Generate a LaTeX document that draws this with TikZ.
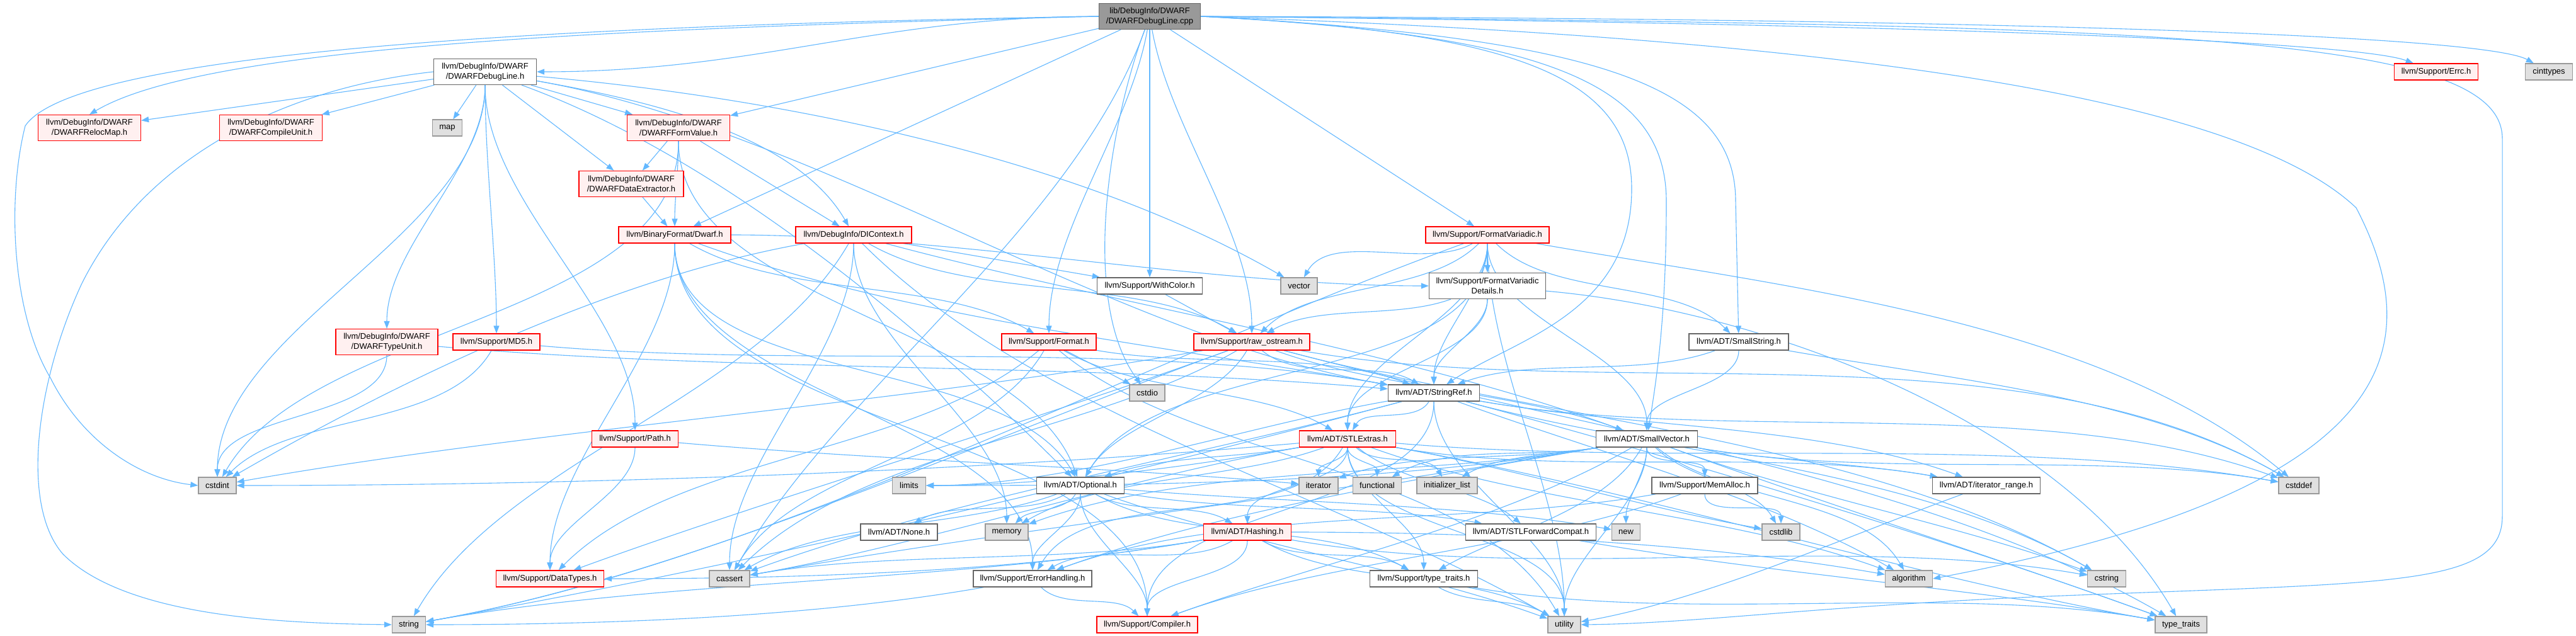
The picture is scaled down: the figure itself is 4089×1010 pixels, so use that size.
\documentclass[tikz,border=0pt]{standalone}
\usepackage{fontspec}
\setmainfont{Liberation Sans}
\usetikzlibrary{arrows.meta}
\pgfdeclarelayer{bgwhite}
\pgfdeclarelayer{edges}
\pgfsetlayers{bgwhite,edges,main}
\definecolor{edgec}{HTML}{63B8FF}
\definecolor{grayfill}{HTML}{E0E0E0}
\definecolor{grayline}{HTML}{999999}
\definecolor{darkline}{HTML}{666666}
\definecolor{redfill}{HTML}{FFF0F0}
\definecolor{rootfill}{HTML}{999999}
\tikzset{
 box/.style={draw, line width=0.26pt, inner sep=0pt, align=center, font=\fontsize{2.6}{3.2}\selectfont, text=black},
 graybox/.style={box, fill=grayfill, draw=grayline},
 whitebox/.style={box, fill=white, draw=darkline},
 redbox/.style={box, fill=redfill, draw=red},
 rootbox/.style={box, fill=rootfill, draw=darkline},
 edge/.style={draw=edgec, line width=0.22pt, -{Triangle[length=2.4pt,width=1.8pt]}},
}
\newcommand\N[7]{\node[#6, minimum width={#4*0.2pt}, minimum height={#5*0.2pt}] (#1) at (#2,-#3) {#7};}
\newcommand\E[3][]{\draw[edge] (#2) to[out=-90,in=90,looseness=0.8,#1] (#3);}
\newcommand\Sl[2]{\draw[edge] (#1) -- (#2);}
\begin{document}
\begin{tikzpicture}[x=0.2pt,y=0.2pt]
\useasboundingbox (0,0) rectangle (4089,-1010);
\begin{pgfonlayer}{bgwhite}
\fill[white] (0,0) rectangle (4089,-1010);
\end{pgfonlayer}
% nodes
\N{R}{1825}{26}{161}{41}{rootbox}{lib/DebugInfo/DWARF\\/DWARFDebugLine.cpp}
\N{DL}{770}{114}{163}{41}{whitebox}{llvm/DebugInfo/DWARF\\/DWARFDebugLine.h}
\N{Errc}{3867}{114}{133}{26}{redbox}{llvm/Support/Errc.h}
\N{cinttypes}{4046}{114}{75}{26}{graybox}{cinttypes}
\N{RM}{142}{203}{163}{41}{redbox}{llvm/DebugInfo/DWARF\\/DWARFRelocMap.h}
\N{CU}{430}{203}{163}{41}{redbox}{llvm/DebugInfo/DWARF\\/DWARFCompileUnit.h}
\N{map}{710}{203}{47}{26}{graybox}{map}
\N{FV}{1077}{203}{163}{41}{redbox}{llvm/DebugInfo/DWARF\\/DWARFFormValue.h}
\N{DE}{1002}{292}{166}{41}{redbox}{llvm/DebugInfo/DWARF\\/DWARFDataExtractor.h}
\N{DW}{1071}{373}{178}{26}{redbox}{llvm/BinaryFormat/Dwarf.h}
\N{DIC}{1355}{373}{184}{26}{redbox}{llvm/DebugInfo/DIContext.h}
\N{FVar}{2361}{373}{196}{26}{redbox}{llvm/Support/FormatVariadic.h}
\N{WC}{1825}{454}{167}{26}{whitebox}{llvm/Support/WithColor.h}
\N{vector}{2062}{454}{58}{26}{graybox}{vector}
\N{FVD}{2361}{454}{185}{41}{whitebox}{llvm/Support/FormatVariadic\\Details.h}
\N{TU}{614}{543}{162}{41}{redbox}{llvm/DebugInfo/DWARF\\/DWARFTypeUnit.h}
\N{MD5}{788}{543}{138}{26}{redbox}{llvm/Support/MD5.h}
\N{Fmt}{1665}{543}{150}{26}{redbox}{llvm/Support/Format.h}
\N{RO}{1987}{543}{184}{26}{redbox}{llvm/Support/raw\_ostream.h}
\N{SS}{2760}{543}{158}{26}{whitebox}{llvm/ADT/SmallString.h}
\N{cstdio}{1821}{624}{56}{26}{graybox}{cstdio}
\N{SR}{2276}{624}{145}{26}{whitebox}{llvm/ADT/StringRef.h}
\N{Path}{1008}{697}{137}{26}{redbox}{llvm/Support/Path.h}
\N{STL}{2139}{697}{153}{26}{redbox}{llvm/ADT/STLExtras.h}
\N{SV}{2614}{697}{161}{26}{whitebox}{llvm/ADT/SmallVector.h}
\N{cstdint}{345}{771}{60}{26}{graybox}{cstdint}
\N{limits}{1443}{771}{53}{26}{graybox}{limits}
\N{Opt}{1715}{771}{139}{26}{whitebox}{llvm/ADT/Optional.h}
\N{iterator}{2093}{771}{62}{26}{graybox}{iterator}
\N{functional}{2186}{771}{77}{26}{graybox}{functional}
\N{initlist}{2297}{771}{96}{26}{graybox}{initializer\_list}
\N{MA}{2706}{771}{168}{26}{whitebox}{llvm/Support/MemAlloc.h}
\N{IR}{3153}{771}{171}{26}{whitebox}{llvm/ADT/iterator\_range.h}
\N{cstddef}{3649}{771}{64}{26}{graybox}{cstddef}
\N{None}{1427}{845}{122}{26}{whitebox}{llvm/ADT/None.h}
\N{memory}{1598}{845}{68}{26}{graybox}{memory}
\N{Hash}{1980}{845}{139}{26}{redbox}{llvm/ADT/Hashing.h}
\N{STLFC}{2430}{845}{207}{26}{whitebox}{llvm/ADT/STLForwardCompat.h}
\N{new}{2581}{845}{45}{26}{graybox}{new}
\N{cstdlib}{2827}{845}{60}{26}{graybox}{cstdlib}
\N{DT}{873}{919}{171}{26}{redbox}{llvm/Support/DataTypes.h}
\N{cassert}{1158}{919}{64}{26}{graybox}{cassert}
\N{EH}{1639}{919}{188}{26}{whitebox}{llvm/Support/ErrorHandling.h}
\N{TT}{2260}{919}{171}{26}{whitebox}{llvm/Support/type\_traits.h}
\N{algorithm}{3030}{919}{75}{26}{graybox}{algorithm}
\N{cstring}{3344}{919}{61}{26}{graybox}{cstring}
\N{string}{649}{992}{53}{26}{graybox}{string}
\N{Comp}{1821}{992}{160}{26}{redbox}{llvm/Support/Compiler.h}
\N{utility}{2483}{992}{52}{26}{graybox}{utility}
\N{stdtt}{3462}{992}{82}{26}{graybox}{type\_traits}
\begin{pgfonlayer}{edges}
% root
\draw[edge] (R) to[out=180,in=0] (DL);
\draw[edge] (R.west) .. controls (1000,-45) and (330,-70) .. (RM.north);
\draw[edge] (R.west) .. controls (900,-40) and (120,-80) .. (40,-200) .. controls (10,-320) and (20,-500) .. (80,-600) .. controls (130,-700) and (220,-760) .. (cstdint.west);
\Sl{R}{FV}
\Sl{R}{DW}
\E[out=-100]{R}{Fmt}
\draw[edge] (R) .. controls (1760,-200) and (1715,-480) .. (cstdio);
\Sl{R}{WC}
\E[out=-80]{R}{RO}
\Sl{R}{FVar}
\draw[edge] (R.east) .. controls (2400,-50) and (2590,-120) .. (2590,-300) .. controls (2590,-500) and (2400,-540) .. (SR);
\draw[edge] (R.east) .. controls (2450,-55) and (2645,-130) .. (2645,-320) .. controls (2645,-500) and (2630,-600) .. (SV);
\draw[edge] (R.east) .. controls (2550,-60) and (2755,-140) .. (2755,-320) -- (SS);
\draw[edge] (R.east) .. controls (3200,-40) and (3750,-70) .. (Errc);
\draw[edge] (R.east) .. controls (3300,-30) and (3950,-60) .. (cinttypes);
\draw[edge] (R.east) .. controls (2900,-60) and (3550,-150) .. (3740,-330) .. controls (3860,-560) and (3800,-780) .. (algorithm.east);
\draw[edge] (R.east) .. controls (3400,-40) and (3972,-50) .. (3972,-220) -- (3972,-820) .. controls (3972,-930) and (3800,-925) .. (3300,-945) .. controls (2900,-960) and (2700,-990) .. (utility.east);
\E[out=-110,in=60]{R}{cassert}
% DWARFDebugLine.h
\Sl{DL}{RM}
\Sl{DL}{CU}
\Sl{DL}{map}
\Sl{DL}{FV}
\Sl{DL}{DE}
\E[out=-10,in=120]{DL}{DIC}
\E{DL}{TU}
\E{DL}{MD5}
\E{DL}{cstdint}
\draw[edge] (DL.west) .. controls (450,-140) and (230,-250) .. (130,-450) .. controls (60,-600) and (30,-800) .. (100,-880) .. controls (200,-980) and (450,-990) .. (string.west);
\E{DL}{Path}
\E[out=-20,in=135]{DL}{Opt}
\E[out=-10,in=170]{DL}{SR}
\E[out=-5,in=150]{DL}{vector}
% FormValue, DataExtractor
\Sl{FV}{DE}
\E{FV}{DW}
\Sl{FV}{DIC}
\E[in=60]{FV}{cstdint}
\E[in=110]{FV}{Opt}
\Sl{DE}{DW}
% Dwarf.h
\E[in=120]{DW}{Opt}
\E[out=-20,in=170]{DW}{SR}
\E{DW}{Comp}
\E{DW}{DT}
\E{DW}{EH}
\E[out=-30,in=150]{DW}{Fmt}
\E[out=0,in=180]{DW}{FVD}
% DIContext.h
\Sl{DIC}{WC}
\E[out=-30,in=150]{DIC}{RO}
\E[out=-15,in=160]{DIC}{SV}
\E{DIC}{cassert}
\E[out=190,in=30]{DIC}{cstdint}
\E{DIC}{memory}
\E[out=-120,in=60]{DIC}{string}
\E[out=-45,in=150]{DIC}{utility}
\Sl{WC}{RO}
% FormatVariadic.h
\E[out=-150,in=60]{FVar}{vector}
\Sl{FVar}{FVD}
\E[out=-135,in=45]{FVar}{RO}
\E{FVar}{SR}
\E{FVar}{STL}
\E[in=60]{FVar}{Opt}
\E[out=-45,in=135]{FVar}{SS}
\E{FVar}{SV}
\E[out=-10,in=140]{FVar}{cstddef}
\E[out=200,in=10]{FVar}{string}
\E{FVar}{utility}
% FormatVariadicDetails.h
\E[out=200,in=30]{FVD}{RO}
\E{FVD}{SR}
\E{FVD}{STL}
\E[out=-5,in=120]{FVD}{stdtt}
% TypeUnit, MD5, Path
\E{TU}{cstdint}
\E[out=-5,in=175]{TU}{SR}
\E[out=-120,in=45]{MD5}{cstdint}
\E[out=-5,in=170]{MD5}{SR}
\E{Path}{DT}
\E[out=-5,in=175]{Path}{iterator}
% Format.h
\Sl{Fmt}{cstdio}
\E[out=-10,in=160]{Fmt}{SR}
\E[out=-30,in=150]{Fmt}{STL}
\E[out=220,in=45]{Fmt}{DT}
\E[out=-120,in=60]{Fmt}{cassert}
\E[out=-40,in=120]{Fmt}{utility}
% raw_ostream.h
\E[out=-40,in=150]{RO}{SR}
\E[out=-20,in=160]{RO}{SV}
\E[out=200,in=20]{RO}{DT}
\E[out=210,in=45]{RO}{cassert}
\E[out=-10,in=150]{RO}{cstddef}
\E[out=190,in=10]{RO}{cstdint}
\E[out=-15,in=150]{RO}{cstring}
\E[out=200,in=10]{RO}{string}
\E[out=-15,in=150]{RO}{stdtt}
\E[out=-120,in=60]{RO}{Opt}
% SmallString.h
\E{SS}{SV}
\E[out=200,in=20]{SS}{SR}
\E[out=-10,in=150]{SS}{cstddef}
% StringRef.h
\E[out=-120,in=60]{SR}{STL}
\E[out=-10,in=160]{SR}{IR}
\E{SR}{Comp}
\E[out=-20,in=150]{SR}{algorithm}
\E[out=195,in=20]{SR}{cassert}
\E[out=-10,in=160]{SR}{cstddef}
\E[out=-15,in=150]{SR}{cstring}
\E[out=190,in=0]{SR}{limits}
\E[out=195,in=10]{SR}{string}
\E[out=-15,in=160]{SR}{stdtt}
\E{SR}{utility}
% STLExtras.h
\E{STL}{iterator}
\E{STL}{functional}
\E[out=-45,in=120]{STL}{initlist}
\E[out=190,in=20]{STL}{Opt}
\E{STL}{Hash}
\E[out=-40,in=140]{STL}{STLFC}
\E[out=-10,in=170]{STL}{IR}
\E[out=-120,in=60]{STL}{EH}
\E[out=-20,in=160]{STL}{algorithm}
\E[out=190,in=10]{STL}{cassert}
\E[out=-5,in=170]{STL}{cstddef}
\E[out=185,in=0]{STL}{cstdint}
\E[out=-10,in=170]{STL}{cstdlib}
\E[out=190,in=0]{STL}{limits}
\E[out=200,in=30]{STL}{memory}
\E[out=-10,in=170]{STL}{stdtt}
\E{STL}{utility}
\E{STL}{TT}
% SmallVector.h
\E[out=210,in=20]{SV}{Comp}
\E[out=-120,in=30]{SV}{TT}
\E[out=-40,in=120]{SV}{algorithm}
\E[out=190,in=10]{SV}{cassert}
\E[out=-10,in=170]{SV}{cstddef}
\E[out=-45,in=120]{SV}{cstdlib}
\E[out=-20,in=160]{SV}{cstring}
\E[out=190,in=30]{SV}{functional}
\E[out=190,in=30]{SV}{initlist}
\E[out=190,in=20]{SV}{iterator}
\E[out=190,in=0]{SV}{limits}
\E[out=190,in=20]{SV}{memory}
\E{SV}{new}
\E[out=-20,in=160]{SV}{stdtt}
\E{SV}{utility}
\E[out=-10,in=170]{SV}{IR}
\E{SV}{MA}
\E[out=190,in=20]{SV}{EH}
% MemAlloc.h, iterator_range.h
\E[out=200,in=20]{MA}{Comp}
\E[out=190,in=20]{MA}{EH}
\E{MA}{cstdlib}
\E[out=200,in=10]{IR}{utility}
% Optional.h
\E[out=-150,in=30]{Opt}{None}
\E[out=-120,in=45]{Opt}{memory}
\E[out=-30,in=150]{Opt}{Hash}
\E[out=-10,in=170]{Opt}{STLFC}
\E{Opt}{Comp}
\E[out=-30,in=150]{Opt}{TT}
\E[out=200,in=30]{Opt}{cassert}
\E[out=-5,in=170]{Opt}{new}
\E[out=-20,in=160]{Opt}{utility}
\E{Opt}{EH}
% Hashing.h
\E[out=190,in=10]{Hash}{cassert}
\E[out=190,in=0]{Hash}{DT}
\E[out=-150,in=30]{Hash}{EH}
\E{Hash}{Comp}
\E[out=-30,in=150]{Hash}{TT}
\E[out=0,in=170]{Hash}{algorithm}
\E[out=-10,in=170]{Hash}{cstring}
\E[out=190,in=10]{Hash}{string}
\E[out=-30,in=150]{Hash}{utility}
% others
\E[out=-10,in=170]{STLFC}{stdtt}
\E[out=-45,in=135]{EH}{Comp}
\E[out=190,in=0]{EH}{string}
\E[out=-10,in=170]{TT}{stdtt}
\E[out=-30,in=150]{TT}{utility}
\end{pgfonlayer}
\end{tikzpicture}
\end{document}
